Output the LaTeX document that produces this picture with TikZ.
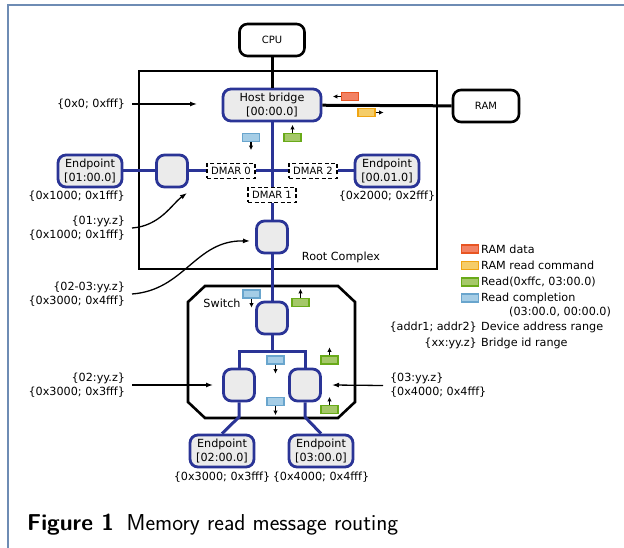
\documentclass[tikz,border=0pt]{standalone}
\usepackage{fontspec}
\setmainfont{DejaVu Sans}
\usepackage{xcolor}
\usepackage{tikz}
\usetikzlibrary{arrows.meta}

\definecolor{pcieblue}{RGB}{42,52,150}
\definecolor{portgray}{RGB}{235,235,235}
\definecolor{framecol}{RGB}{110,140,180}
\definecolor{datafill}{RGB}{242,130,100}
\definecolor{dataline}{RGB}{232,85,35}
\definecolor{cmdfill}{RGB}{245,205,105}
\definecolor{cmdline}{RGB}{240,165,20}
\definecolor{readfill}{RGB}{165,200,105}
\definecolor{readline}{RGB}{105,170,25}
\definecolor{donefill}{RGB}{165,205,230}
\definecolor{doneline}{RGB}{105,165,205}

\begin{document}
\begin{tikzpicture}[x=1pt,y=-1pt,
  every node/.style={inner sep=0pt,font=\fontsize{11.2}{14}\selectfont},
  port/.style={draw=pcieblue,fill=portgray,line width=2.8pt,rounded corners=8pt,
    minimum width=31pt,minimum height=32pt},
  endpt/.style={port,minimum width=64pt,align=center},
  chip/.style={draw,line width=2.6pt,rounded corners=8pt,minimum width=65pt,
    minimum height=32pt,font=\fontsize{10}{12}\selectfont},
  dmar/.style={draw,fill=white,line width=1.9pt,dash pattern=on 4pt off 2.5pt,
    minimum width=48pt,minimum height=15pt,font=\fontsize{10}{12}\selectfont},
  bus/.style={draw=pcieblue,line width=3pt},
  wire/.style={draw,line width=3pt},
  msg/.style={line width=1.2pt,minimum width=17pt,minimum height=8pt},
  ramdata/.style={msg,draw=dataline,fill=datafill},
  ramcmd/.style={msg,draw=cmdline,fill=cmdfill},
  rdreq/.style={msg,draw=readline,fill=readfill},
  rddone/.style={msg,draw=doneline,fill=donefill},
  msgarrow/.style={-{Latex[length=4.5pt,width=4.5pt]},line width=1.1pt},
  lbl/.style={outer sep=7pt},
  lblarrow/.style={-{Latex[length=7pt,width=5pt]},line width=1.3pt}]
\useasboundingbox (0,0) rectangle (624,548);
\draw[framecol,line width=1.2pt] (8,560) -- (8,5) -- (630,5);

% root complex and switch
\draw[line width=2.6pt] (139,71) rectangle (437,269);
\node at (341,257) {Root Complex};
\draw[line width=2.6pt] (205,286) -- (338,286) -- (355,302) -- (355,402)
  -- (338,418) -- (205,418) -- (188,402) -- (188,302) -- cycle;
\node (swlbl) at (222,303) {Switch};

\node[chip] (cpu) at (272,40) {CPU};
\node[chip,minimum width=66pt] (ram) at (486,106) {RAM};
\node[endpt,minimum width=98pt] (hb) at (272,105) {Host bridge\\{}[00:00.0]};
\node[port] (lp) at (172,171) {};
\node[endpt] (ep1) at (90,171) {Endpoint\\{}[01:00.0]};
\node[endpt] (ep2) at (387,171) {Endpoint\\{}[00.01.0]};
\node[dmar] (dm0) at (231,171) {DMAR 0};
\node[dmar] (dm2) at (313,171) {DMAR 2};
\node[dmar] (dm1) at (272,195) {DMAR 1};
\node[port] (rp) at (272,237) {};
\node[port] (sw) at (272,318) {};
\node[port] (dl) at (239,385) {};
\node[port] (dr) at (305,385) {};
\node[endpt] (ep3) at (222,451) {Endpoint\\{}[02:00.0]};
\node[endpt] (ep4) at (321,451) {Endpoint\\{}[03:00.0]};

\draw[wire] (cpu) -- (hb);
\draw[wire] (hb) -- (ram);
\draw[bus] (ep1) -- (lp);
\draw[bus] (lp) -- (dm0);
\draw[bus] (dm0) -- (dm2);
\draw[bus] (dm2) -- (ep2);
\draw[bus] (hb) -- (dm1);
\draw[bus] (dm1) -- (rp);
\draw[bus] (rp) -- (sw);
\coordinate (br) at (272,351);
\coordinate (kl) at (239,417);
\coordinate (kr) at (305,417);
\draw[bus] (sw) -- (br);
\draw[bus] (dl.north) |- (br) -| (dr.north);
\draw[bus] (dl.south) -- (kl) -- (ep3.north);
\draw[bus] (dr.south) -- (kr) -- (ep4.north);

% messages
\node[ramdata] (m1) at (350,96.5) {};
\draw[msgarrow] (m1.west) -- ++(-8,0);
\node[ramcmd] (m2) at (366.5,112.5) {};
\draw[msgarrow] (m2.east) -- ++(8,0);
\node[rddone] (m3) at (251,137.5) {};
\draw[msgarrow] (m3.south) -- ++(0,8);
\node[rdreq] (m4) at (292.5,137.5) {};
\draw[msgarrow] (m4.north) -- ++(0,-8);
\node[rddone] (m5) at (251.5,294) {};
\draw[msgarrow] (m5.south) -- ++(0,9);
\node[rdreq] (m6) at (300.5,302.5) {};
\draw[msgarrow] (m6.north) -- ++(0,-9);
\node[rddone] (m7) at (275.5,360) {};
\draw[msgarrow] (m7.south) -- ++(0,9);
\node[rddone] (m8) at (275.5,401.5) {};
\draw[msgarrow] (m8.south) -- ++(0,9);
\node[rdreq] (m9) at (329.5,360) {};
\draw[msgarrow] (m9.north) -- ++(0,-8);
\node[rdreq] (m10) at (329.5,409.5) {};
\draw[msgarrow] (m10.north) -- ++(0,-8);

% address ranges
\node[lbl,anchor=east] (r0) at (132,104) {\{0x0; 0xfff\}};
\coordinate (hbin) at (197,104);
\draw[lblarrow] (r0) -- (hbin);
\node[anchor=east] (r1) at (125,196) {\{0x1000; 0x1fff\}};
\node (r2) at (387,196) {\{0x2000; 0x2fff\}};
\node (r3) at (222,477) {\{0x3000; 0x3fff\}};
\node (r4) at (321,477) {\{0x4000; 0x4fff\}};
\node[lbl,anchor=east,align=right] (b1) at (132,228) {\{01:yy.z\}\\\{0x1000; 0x1fff\}};
\coordinate (lpin) at (187,193);
\draw[lblarrow] (b1.east) .. controls (160,226) and (172,204) .. (lpin);
\node[lbl,anchor=east,align=right] (b2) at (132,294) {\{02-03:yy.z\}\\\{0x3000; 0x4fff\}};
\coordinate (rpin) at (250,241);
\draw[lblarrow] (b2.east) .. controls (185,290) and (195,240) .. (rpin);
\node[lbl,anchor=east,align=right] (b3) at (132,385) {\{02:yy.z\}\\\{0x3000; 0x3fff\}};
\coordinate (dlin) at (213,385);
\draw[lblarrow] (b3) -- (dlin);
\node[lbl,anchor=west,align=left] (b4) at (383,385.5) {\{03:yy.z\}\\\{0x4000; 0x4fff\}};
\coordinate (drin) at (332,385);
\draw[lblarrow] (b4.west) -- (drin);

% legend
\node[ramdata] (k1) at (470,249) {};
\node[anchor=west] at (481,249) {RAM data};
\node[ramcmd] (k2) at (470,265.5) {};
\node[anchor=west] at (481,265.5) {RAM read command};
\node[rdreq] (k3) at (470,282) {};
\node[anchor=west] at (481,282) {Read(0xffc, 03:00.0)};
\node[rddone] (k4) at (470,298) {};
\node[anchor=west] at (481,298) {Read completion};
\node[anchor=west] at (509,312) {(03:00.0, 00:00.0)};
\node[anchor=east] at (477,327) {\{addr1; addr2\}};
\node[anchor=west] at (481,327) {Device address range};
\node[anchor=east] at (477,343) {\{xx:yy.z\}};
\node[anchor=west] at (481,343) {Bridge id range};

\node[anchor=base west,font=\sffamily\fontsize{23}{28}\selectfont] (cap) at (27,530)
  {\textbf{Figure 1}\hspace{0.55em}Memory read message routing};
\end{tikzpicture}
\end{document}
